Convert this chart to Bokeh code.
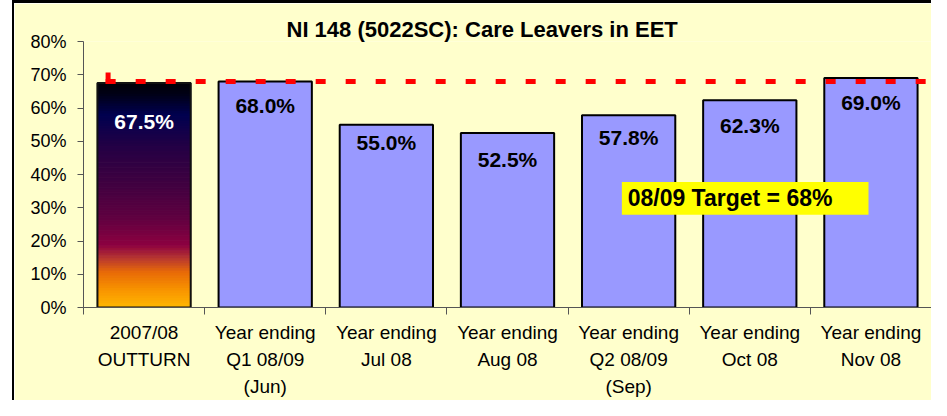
import numpy as np
from bokeh.plotting import figure
from bokeh.models import Range1d, FixedTicker, PrintfTickFormatter, Spacer
from bokeh.layouts import row, column
from bokeh.core.properties import value
from bokeh.embed import file_html
from bokeh.resources import INLINE

# ---------------- data ----------------
title_text = "NI 148 (5022SC): Care Leavers in EET"
categories = [
    "2007/08\nOUTTURN",
    "Year ending\nQ1 08/09\n(Jun)",
    "Year ending\nJul 08",
    "Year ending\nAug 08",
    "Year ending\nQ2 08/09\n(Sep)",
    "Year ending\nOct 08",
    "Year ending\nNov 08",
]
values = [67.5, 68.0, 55.0, 52.5, 57.8, 62.3, 69.0]
value_labels = ["67.5%", "68.0%", "55.0%", "52.5%", "57.8%", "62.3%", "69.0%"]
target = 68.0
target_text = "08/09 Target = 68%"
y_ticks = [0, 10, 20, 30, 40, 50, 60, 70, 80]

# ---------------- style ----------------
FONT = "Liberation Sans"
BG = "#FFFFCC"
BAR_W = 0.77
label_dy = [38, 24, 18, 27, 22, 25, 24]          # px below bar top (label centre)
label_colors = ["white"] + ["black"] * 6
grad_stops = [(0.00, "#FFB800"), (0.08, "#F89400"), (0.16, "#E86A08"),
              (0.22, "#B83830"), (0.28, "#8C0040"), (0.40, "#600040"),
              (0.55, "#400040"), (0.72, "#240045"), (0.86, "#000050"),
              (0.95, "#000018"), (1.00, "#000008")]

n = len(categories)
xc = np.arange(n) + 0.5

p = figure(width=917, height=397, x_range=Range1d(0, n), y_range=Range1d(0, 80),
           output_backend="svg", toolbar_location=None,
           min_border_left=69, min_border_right=0, min_border_top=38, min_border_bottom=93,
           background_fill_color=BG, border_fill_color=BG, outline_line_color=None)
p.grid.visible = False

p.title.text = title_text
p.title.align = "left"
p.title.offset = 203
p.title.text_font = FONT
p.title.text_font_style = "bold"
p.title.text_font_size = "22px"
p.title.text_color = "black"
p.title.standoff = 0

# gradient first bar
def hex2rgb(h):
    h = h.lstrip("#")
    return np.array([int(h[i:i + 2], 16) for i in (0, 2, 4)], dtype=float)

def grad_color(f):
    for (f0, c0), (f1, c1) in zip(grad_stops[:-1], grad_stops[1:]):
        if f0 <= f <= f1:
            t = (f - f0) / (f1 - f0)
            c = hex2rgb(c0) * (1 - t) + hex2rgb(c1) * t
            return "#%02x%02x%02x" % tuple(int(round(v)) for v in c)
    return grad_stops[-1][1]

N = 90
edges = np.linspace(0, values[0], N + 1)
cols = [grad_color((i + 0.5) / N) for i in range(N)]
p.quad(left=xc[0] - BAR_W / 2, right=xc[0] + BAR_W / 2, bottom=edges[:-1], top=edges[1:],
       fill_color=cols, line_color=cols, line_width=1)
p.vbar(x=xc[0], top=values[0], width=BAR_W, fill_color=None, line_color="#111111", line_width=2)

# other bars
p.vbar(x=xc[1:], top=values[1:], width=BAR_W, fill_color="#9999FF", line_color="black", line_width=2)

# value labels
p.text(x=xc, y=values, text=value_labels, y_offset=label_dy, text_align="center",
       text_baseline="middle", text_color=label_colors, text_font=value(FONT),
       text_font_style="bold", text_font_size="21px")

# target line
x0 = 0.183
p.line(x=[x0, n], y=[target, target], line_color="red", line_width=5, line_dash="10 20")
p.segment(x0=x0 + 0.02, y0=target - 0.7, x1=x0 + 0.02, y1=target + 2.7, line_color="red", line_width=5)

# target box
p.quad(left=4.444, right=6.48, bottom=27.92, top=37.76, fill_color="#FFFF00", line_color=None)
p.text(x=[4.492], y=[32.84], text=[target_text], text_align="left", text_baseline="middle",
       text_color="black", text_font=value(FONT), text_font_style="bold", text_font_size="23px")

# axes
yax = p.yaxis[0]
yax.ticker = FixedTicker(ticks=y_ticks)
yax.formatter = PrintfTickFormatter(format="%d%%")
yax.major_label_text_font = FONT
yax.major_label_text_font_size = "18px"
yax.major_label_text_color = "black"
yax.axis_line_color = "#555555"
yax.major_tick_line_color = "#555555"
yax.major_tick_out = 6
yax.major_tick_in = 0
yax.minor_tick_line_color = None
yax.major_label_standoff = 11

xax = p.xaxis[0]
xax.ticker = FixedTicker(ticks=list(xc), minor_ticks=list(range(n + 1)))
xax.major_label_overrides = {float(x): c for x, c in zip(xc, categories)}
xax.major_label_text_font = FONT
xax.major_label_text_font_size = "19px"
xax.major_label_text_color = "black"
xax.major_label_text_line_height = 1.3
xax.major_label_standoff = 7
xax.axis_line_color = "#555555"
xax.major_tick_line_color = None
xax.major_tick_out = 0
xax.major_tick_in = 0
xax.minor_tick_line_color = "#555555"
xax.minor_tick_out = 7
xax.minor_tick_in = 0

# outer frame: white strip + black rule on the left, black band on top
left_white = Spacer(width=12, height=400, styles={"background-color": "white"})
left_rule = Spacer(width=2, height=400, styles={"background-color": "black"})
top_rule = Spacer(width=917, height=3, styles={"background-color": "black"})
layout = row(left_white, left_rule, column(top_rule, p))

open("out.html", "w").write(file_html(layout, INLINE))
